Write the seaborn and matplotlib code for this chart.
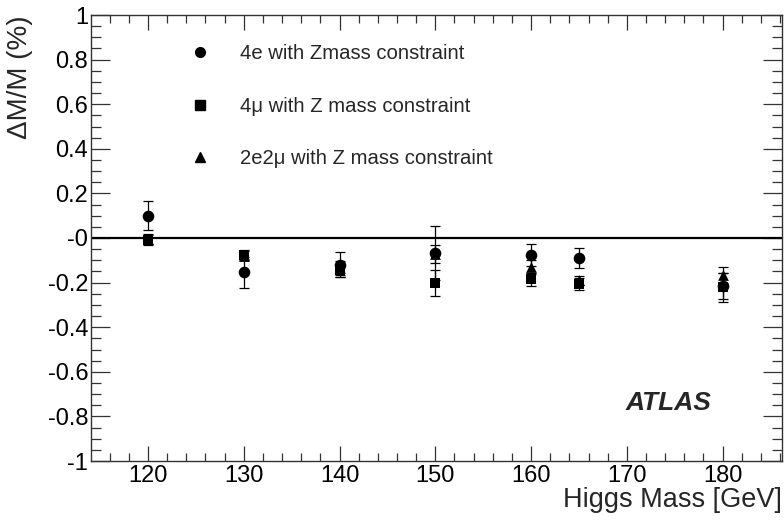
import matplotlib
matplotlib.use("Agg")
import matplotlib.pyplot as plt
from matplotlib.lines import Line2D
from matplotlib.ticker import MultipleLocator, FixedLocator
import numpy as np
import pandas as pd
import seaborn as sns

# ---- data ----
masses = [120, 130, 140, 150, 160, 165, 180]

dm_4e = [0.100, -0.154, -0.120, -0.067, -0.076, -0.090, -0.215]
err_4e = [0.065, 0.070, 0.055, 0.120, 0.050, 0.045, 0.060]

dm_4mu = [-0.008, -0.076, -0.145, -0.200, -0.185, -0.206, -0.220]
err_4mu = [0.025, 0.020, 0.030, 0.058, 0.030, 0.025, 0.065]

dm_2e2mu = [-0.005, -0.080, -0.135, -0.070, -0.130, -0.190, -0.166]
err_2e2mu = [0.020, 0.020, 0.030, 0.040, 0.030, 0.020, 0.036]

labels = ["4e with Zmass constraint",
          "4\u03bc with Z mass constraint",
          "2e2\u03bc with Z mass constraint"]

ytick_vals = [1.0, 0.8, 0.6, 0.4, 0.2, 0.0, -0.2, -0.4, -0.6, -0.8, -1.0]
ytick_labels = ["1", "0.8", "0.6", "0.4", "0.2", "-0", "-0.2", "-0.4", "-0.6", "-0.8", "-1"]
xtick_vals = [120, 130, 140, 150, 160, 170, 180]

# ---- style ----
sns.set_theme(style="ticks")
plt.rcParams["font.family"] = ["Liberation Sans", "DejaVu Sans"]
plt.rcParams["axes.unicode_minus"] = False

fig = plt.figure(figsize=(7.84, 5.20), dpi=100)
ax = fig.add_axes([91 / 784, 1 - 461 / 520, (782 - 91) / 784, (461 - 15) / 520])

# draw order: triangle, circle, square
df = pd.concat([
    pd.DataFrame({"mass": masses, "dm": dm_2e2mu, "err": err_2e2mu, "ch": "2e2mu"}),
    pd.DataFrame({"mass": masses, "dm": dm_4e, "err": err_4e, "ch": "4e"}),
    pd.DataFrame({"mass": masses, "dm": dm_4mu, "err": err_4mu, "ch": "4mu"}),
], ignore_index=True)

marker_map = {"4e": "o", "4mu": "s", "2e2mu": "^"}

ax.axhline(0, color="black", lw=1.6, zorder=1)

for ch in ["2e2mu", "4e", "4mu"]:
    sub = df[df["ch"] == ch]
    ax.errorbar(sub["mass"], sub["dm"], yerr=sub["err"], fmt="none",
                ecolor="black", elinewidth=0.9, capsize=3.5, capthick=0.9, zorder=2)

for ch, s in [("2e2mu", 60), ("4e", 70), ("4mu", 55)]:
    sub = df[df["ch"] == ch]
    sns.scatterplot(data=sub, x="mass", y="dm", marker=marker_map[ch], color="black",
                    s=s, edgecolor="black", linewidth=0, ax=ax, zorder=3, legend=False)

ax.set_xlim(114.05, 186.2)
ax.set_ylim(-1.0, 1.0)

ax.xaxis.set_major_locator(FixedLocator(xtick_vals))
ax.xaxis.set_minor_locator(MultipleLocator(2))
ax.set_xticklabels([str(v) for v in xtick_vals])
ax.yaxis.set_major_locator(FixedLocator(ytick_vals))
ax.set_yticklabels(ytick_labels)
ax.yaxis.set_minor_locator(MultipleLocator(0.05))

for sp in ax.spines.values():
    sp.set_visible(True)
    sp.set_color("#333333")
    sp.set_linewidth(1.0)

ax.tick_params(which="both", direction="in", top=True, right=True, colors="#333333",
               labelcolor="black", width=0.9)
ax.tick_params(axis="y", which="major", length=13.5, labelsize=17, pad=2)
ax.tick_params(axis="y", which="minor", length=7)
ax.tick_params(axis="x", which="major", length=10.5, labelsize=17, pad=3)
ax.tick_params(axis="x", which="minor", length=5.5)

ax.set_xlabel("Higgs Mass [GeV]", fontsize=19.5, loc="right")
ax.xaxis.set_label_coords(1.0, -0.058)
ax.set_ylabel("\u0394M/M (%)", fontsize=20, loc="top")
ax.yaxis.set_label_coords(-0.084, 1.0)

ax.text(0.773, 0.130, "ATLAS", transform=ax.transAxes, fontsize=19,
        fontweight="bold", fontstyle="italic", ha="left", va="center")

handles = [
    Line2D([], [], ls="none", marker="o", color="black", markersize=7),
    Line2D([], [], ls="none", marker="s", color="black", markersize=6.5),
    Line2D([], [], ls="none", marker="^", color="black", markersize=7),
]
leg = ax.legend(handles, labels, loc="upper left", bbox_to_anchor=(0.128, 0.934),
                frameon=False, fontsize=14.6, handlelength=2.0, handletextpad=0.97,
                labelspacing=1.65, borderpad=0, borderaxespad=0, numpoints=1)

ax.grid(False)
fig.savefig("out.png", dpi=100)
